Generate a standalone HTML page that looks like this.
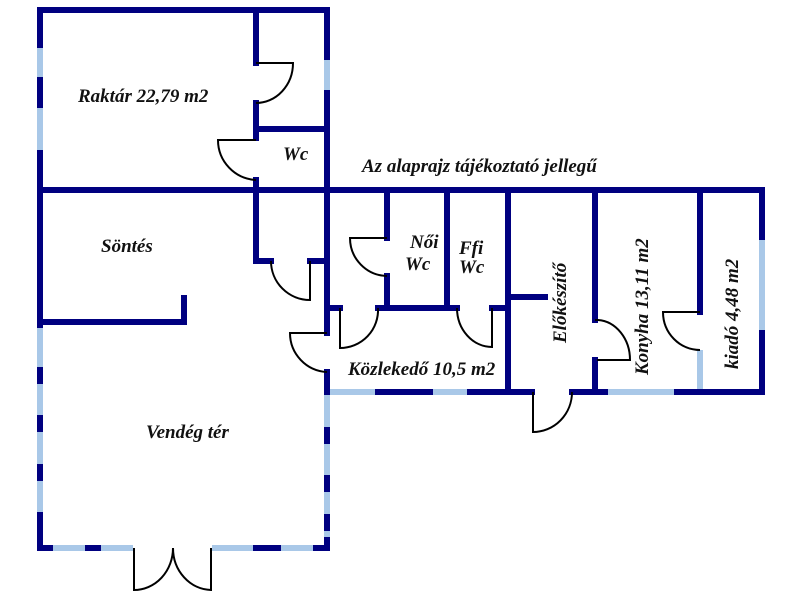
<!DOCTYPE html>
<html><head><meta charset="utf-8"><style>
html,body{margin:0;padding:0;background:#fff;width:800px;height:600px;overflow:hidden}
text{font-family:"Liberation Serif",serif;font-style:italic;font-weight:bold;fill:#111;font-size:19px}
</style></head><body>
<svg width="800" height="600" viewBox="0 0 800 600" xmlns="http://www.w3.org/2000/svg">
<g stroke="#a9c8e8" stroke-width="6" fill="none">
<line x1="40" y1="45" x2="40" y2="80"/><line x1="40" y1="105" x2="40" y2="153"/>
<line x1="327" y1="57" x2="327" y2="93"/>
<line x1="40" y1="325" x2="40" y2="548"/>
<line x1="40" y1="548" x2="133" y2="548"/><line x1="212" y1="548" x2="327" y2="548"/>
<line x1="327" y1="392" x2="327" y2="548"/>
<line x1="327" y1="392" x2="378" y2="392"/><line x1="430" y1="392" x2="470" y2="392"/>
<line x1="605" y1="392" x2="677" y2="392"/>
<line x1="762" y1="237" x2="762" y2="333"/>
<line x1="700" y1="350" x2="700" y2="392"/>
</g>
<g stroke="#000080" stroke-width="6" fill="none" stroke-linecap="square">
<line x1="40" y1="10" x2="327" y2="10"/>
<line x1="40" y1="10" x2="40" y2="45"/><line x1="40" y1="80" x2="40" y2="105"/><line x1="40" y1="153" x2="40" y2="325"/>
<line x1="327" y1="10" x2="327" y2="57"/><line x1="327" y1="93" x2="327" y2="333"/><line x1="327" y1="372" x2="327" y2="392"/>
<line x1="256" y1="10" x2="256" y2="63"/><line x1="256" y1="103" x2="256" y2="138"/><line x1="256" y1="180" x2="256" y2="261"/>
<line x1="256" y1="129" x2="327" y2="129"/>
<line x1="40" y1="190" x2="762" y2="190"/>
<line x1="762" y1="190" x2="762" y2="237"/><line x1="762" y1="333" x2="762" y2="392"/>
<line x1="40" y1="322" x2="184" y2="322"/><line x1="184" y1="298" x2="184" y2="322"/>
<line x1="256" y1="261" x2="271" y2="261"/><line x1="310" y1="261" x2="327" y2="261"/>
<line x1="40" y1="370" x2="40" y2="381"/><line x1="40" y1="418" x2="40" y2="429"/><line x1="40" y1="467" x2="40" y2="478"/><line x1="40" y1="515" x2="40" y2="548"/>
<line x1="40" y1="548" x2="50" y2="548"/><line x1="88" y1="548" x2="98" y2="548"/><line x1="256" y1="548" x2="278" y2="548"/><line x1="316" y1="548" x2="327" y2="548"/>
<line x1="327" y1="430" x2="327" y2="441"/><line x1="327" y1="478" x2="327" y2="489"/><line x1="327" y1="517" x2="327" y2="528"/><line x1="327" y1="540" x2="327" y2="548"/>
<line x1="387" y1="190" x2="387" y2="238"/><line x1="387" y1="276" x2="387" y2="308"/>
<line x1="447" y1="190" x2="447" y2="308"/>
<line x1="327" y1="308" x2="340" y2="308"/><line x1="378" y1="308" x2="457" y2="308"/><line x1="492" y1="308" x2="508" y2="308"/>
<line x1="508" y1="190" x2="508" y2="392"/><line x1="508" y1="297" x2="545" y2="297"/>
<line x1="378" y1="392" x2="430" y2="392"/><line x1="470" y1="392" x2="532" y2="392"/>
<line x1="572" y1="392" x2="605" y2="392"/><line x1="677" y1="392" x2="762" y2="392"/>
<line x1="595" y1="190" x2="595" y2="320"/><line x1="595" y1="360" x2="595" y2="392"/>
<line x1="700" y1="190" x2="700" y2="312"/>
</g>
<g stroke="#000" stroke-width="2" fill="none">
<path d="M256 63 H293 A37 40 0 0 1 256 103"/>
<path d="M256 140 H218 A40 40 0 0 0 256 180"/>
<path d="M271 261 A39 39 0 0 0 310 300 V261"/>
<path d="M327 333 H290 A39 39 0 0 0 327 372"/>
<path d="M387 238 H350 A38 38 0 0 0 387 276"/>
<path d="M340 308 V348 A38 38 0 0 0 378 308"/>
<path d="M457 308 A35 39 0 0 0 492 347 V308"/>
<path d="M533 392 V432 A39 40 0 0 0 572 392"/>
<path d="M595 320 H598 A34 40 0 0 1 630 360 H597"/>
<path d="M700 312 H663 A37 38 0 0 0 700 350"/>
<path d="M134 548 V590 A39 42 0 0 0 173 548 A39 42 0 0 0 211 590 V548"/>
</g>
<text x="78" y="102">Raktár 22,79 m2</text>
<text x="283" y="160">Wc</text>
<text x="362" y="172">Az alaprajz tájékoztató jellegű</text>
<text x="101" y="252">Söntés</text>
<text x="410" y="248">Női</text><text x="405" y="270">Wc</text>
<text x="459" y="254">Ffi</text><text x="459" y="273">Wc</text>
<text x="348" y="375">Közlekedő 10,5 m2</text>
<text x="146" y="438">Vendég tér</text>
<text transform="translate(566,343) rotate(-90)">Előkészítő</text>
<text transform="translate(648,375) rotate(-90)">Konyha 13,11 m2</text>
<text transform="translate(738,369) rotate(-90)">kiadó 4,48 m2</text>
</svg>
</body></html>
